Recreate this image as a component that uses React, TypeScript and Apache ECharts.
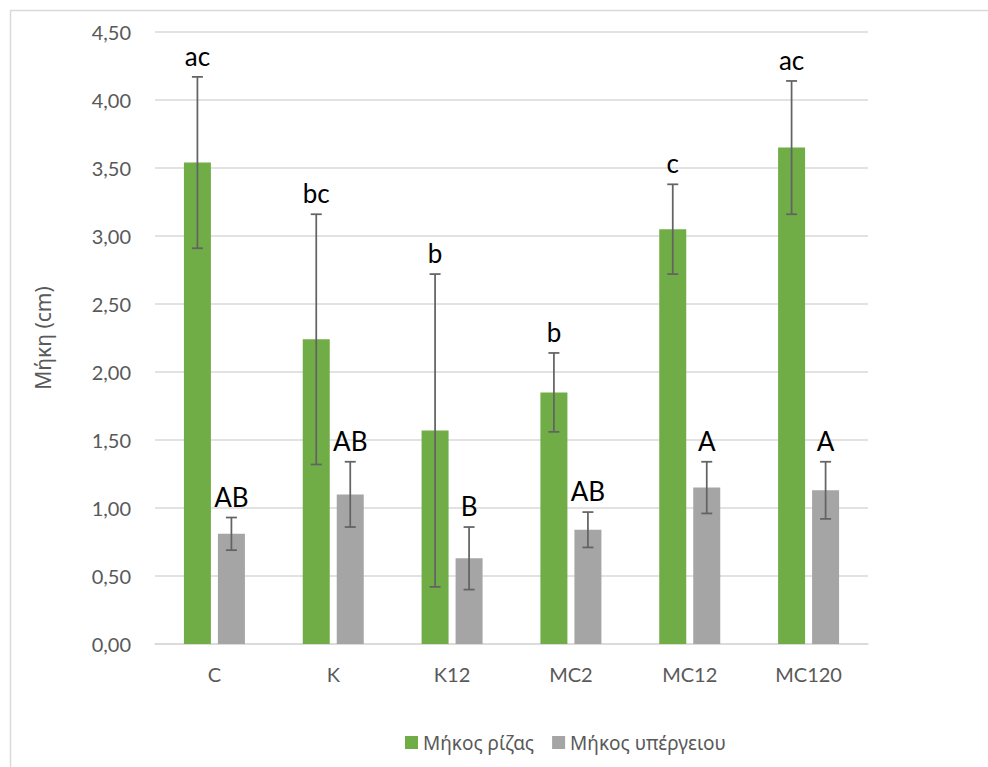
import React, { useEffect, useRef } from "react";
import * as echarts from "echarts";

// Treatments on the category axis
const categories = ["C", "K", "K12", "MC2", "MC12", "MC120"];

// Root length (cm): means, standard deviations and significance letters
const rootMean = [3.54, 2.24, 1.57, 1.85, 3.05, 3.65];
const rootSd = [0.63, 0.92, 1.15, 0.29, 0.33, 0.49];
const rootLetters = ["ac", "bc", "b", "b", "c", "ac"];

// Shoot length (cm): means, standard deviations and significance letters
const shootMean = [0.81, 1.1, 0.63, 0.84, 1.15, 1.13];
const shootSd = [0.12, 0.24, 0.23, 0.13, 0.19, 0.21];
const shootLetters = ["AB", "AB", "B", "AB", "A", "A"];

const seriesNames = ["Μήκος ρίζας", "Μήκος υπέργειου"];
const yAxisTitle = "Μήκη (cm)";

const GREEN = "#70ad47";
const GREY = "#a5a5a5";
const TEXT = "#595959";
const GRID = "#d9d9d9";
const BAR_W = 27;
const BAR_GAP = 7;

function errorSeries(
  name: string,
  means: number[],
  sds: number[],
  letters: string[],
  offset: number
) {
  return {
    type: "custom",
    name: name + " err",
    z: 5,
    data: means.map((m, i) => [i, m, sds[i]]),
    encode: { x: 0, y: 1 },
    renderItem: (params: any, api: any) => {
      const idx = api.value(0);
      const mean = api.value(1);
      const sd = api.value(2);
      const center = api.coord([idx, mean]);
      const x = center[0] + offset;
      const top = api.coord([idx, mean + sd])[1];
      const bot = api.coord([idx, mean - sd])[1];
      const cap = 5.5;
      const lineStyle = { stroke: "#636363", lineWidth: 1.75 };
      return {
        type: "group",
        children: [
          { type: "line", shape: { x1: x, y1: top, x2: x, y2: bot }, style: lineStyle },
          { type: "line", shape: { x1: x - cap, y1: top, x2: x + cap, y2: top }, style: lineStyle },
          { type: "line", shape: { x1: x - cap, y1: bot, x2: x + cap, y2: bot }, style: lineStyle },
          {
            type: "text",
            x: x,
            y: top - 8,
            style: {
              text: letters[params.dataIndex],
              fill: "#000000",
              font: "26px Lato, 'Noto Sans', sans-serif",
              align: "center",
              verticalAlign: "bottom",
            },
          },
        ],
      };
    },
  };
}

export default function App() {
  const ref = useRef<HTMLDivElement>(null);

  useEffect(() => {
    if (!ref.current) return;
    const chart = echarts.init(ref.current, null, { renderer: "svg" });
    const off = (BAR_W + BAR_GAP) / 2;
    chart.setOption({
      animation: false,
      backgroundColor: "#ffffff",
      graphic: [
        {
          type: "rect",
          left: 8,
          top: 8,
          silent: true,
          z: -10,
          shape: { width: 1200, height: 1000 },
          style: { fill: "none", stroke: GRID, lineWidth: 1.5 },
        },
      ],
      grid: { left: 155, right: 120, top: 32, bottom: 123, containLabel: false },
      legend: {
        data: seriesNames,
        left: 400,
        top: 728,
        itemWidth: 13,
        itemHeight: 13,
        itemGap: 18,
        icon: "rect",
        textStyle: { color: TEXT, fontSize: 19, fontFamily: "'Noto Sans', sans-serif" },
      },
      xAxis: {
        type: "category",
        data: categories,
        axisTick: { show: false },
        axisLine: { lineStyle: { color: GRID, width: 1.5 } },
        axisLabel: {
          color: TEXT,
          fontSize: 20,
          fontFamily: "Lato, sans-serif",
          margin: 20,
        },
      },
      yAxis: {
        type: "value",
        min: 0,
        max: 4.5,
        interval: 0.5,
        name: yAxisTitle,
        nameLocation: "middle",
        nameRotate: 90,
        nameGap: 102,
        nameTextStyle: { color: TEXT, fontSize: 21, fontFamily: "'Noto Sans', sans-serif" },
        axisLine: { show: false },
        axisTick: { show: false },
        axisLabel: {
          color: TEXT,
          fontSize: 20,
          fontFamily: "Lato, sans-serif",
          margin: 24,
          formatter: (v: number) => v.toFixed(2).replace(".", ","),
        },
        splitLine: { lineStyle: { color: GRID, width: 1.5 } },
      },
      series: [
        {
          type: "bar",
          name: seriesNames[0],
          data: rootMean,
          barWidth: BAR_W,
          barGap: (BAR_GAP / BAR_W) * 100 + "%",
          itemStyle: { color: GREEN },
        },
        {
          type: "bar",
          name: seriesNames[1],
          data: shootMean,
          barWidth: BAR_W,
          itemStyle: { color: GREY },
        },
        errorSeries(seriesNames[0], rootMean, rootSd, rootLetters, -off),
        errorSeries(seriesNames[1], shootMean, shootSd, shootLetters, off),
      ],
    });
    return () => chart.dispose();
  }, []);

  return (
    <div
      ref={ref}
      style={{ position: "fixed", left: 0, top: 0, width: 988, height: 767 }}
    />
  );
}
